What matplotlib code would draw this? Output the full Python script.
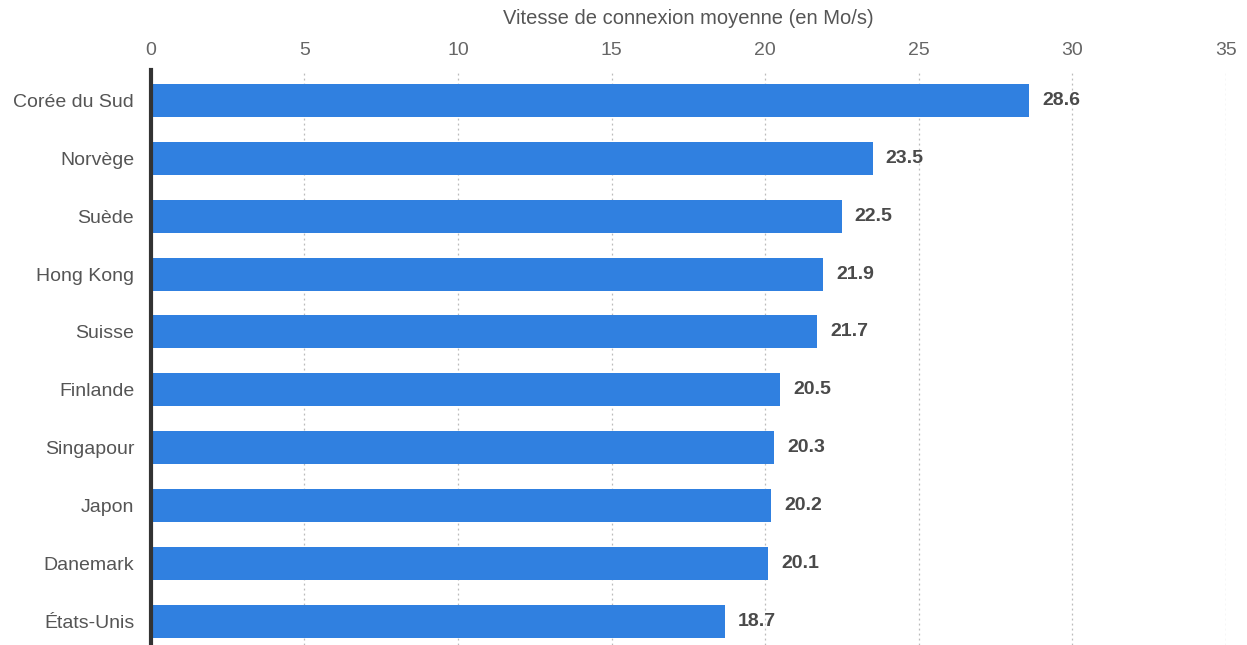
import numpy as np
import matplotlib.pyplot as plt

# data
countries = ['Corée du Sud', 'Norvège', 'Suède', 'Hong Kong', 'Suisse',
             'Finlande', 'Singapour', 'Japon', 'Danemark', 'États-Unis']
speeds = [28.6, 23.5, 22.5, 21.9, 21.7, 20.5, 20.3, 20.2, 20.1, 18.7]
xticks = [0, 5, 10, 15, 20, 25, 30, 35]

plt.rcParams['font.family'] = ['Liberation Sans', 'DejaVu Sans']

fig = plt.figure(figsize=(12.47, 6.45), dpi=100)
ax = fig.add_axes([0.121, 0.0, 0.862, 0.891])

y = np.arange(len(countries))
ax.barh(y, speeds, height=0.57, color='#3080e0', zorder=3)

for yi, v in zip(y, speeds):
    ax.text(v + 0.42, yi, '%.1f' % v, va='center', ha='left', fontsize=14,
            fontweight='bold', color='#4a4a4a', zorder=4)

ax.set_xlim(0, 35)
ax.set_ylim(9.41, -0.52)
ax.set_yticks(y)
ax.set_yticklabels(countries, fontsize=14, color='#555555')
ax.set_xticks(xticks)
ax.set_xticklabels([str(t) for t in xticks], fontsize=14, color='#666666')
ax.xaxis.tick_top()
ax.xaxis.set_label_position('top')
ax.set_xlabel('Vitesse de connexion moyenne (en Mo/s)', fontsize=14.5,
              color='#555555', labelpad=13)
ax.tick_params(axis='both', length=0)
ax.tick_params(axis='y', pad=12)
ax.tick_params(axis='x', pad=8)

ax.grid(axis='x', linestyle=(0, (1.5, 2.5)), color='#bbbbbb', linewidth=0.9, zorder=0)
for s in ['top', 'right', 'bottom']:
    ax.spines[s].set_visible(False)
ax.spines['left'].set_linewidth(3)
ax.spines['left'].set_color('#333333')
ax.spines['left'].set_zorder(5)

fig.savefig('out.png', dpi=100)
